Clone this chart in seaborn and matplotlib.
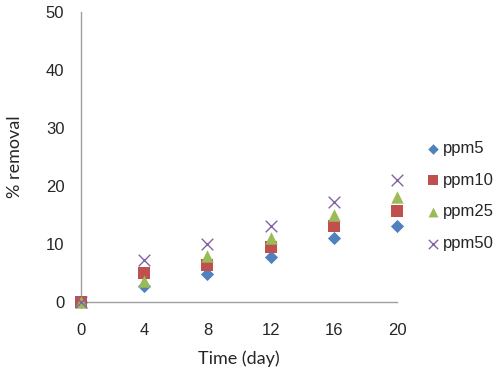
import matplotlib
matplotlib.use("Agg")
import matplotlib.pyplot as plt
import seaborn as sns
import pandas as pd

days = [0, 4, 8, 12, 16, 20]
ppm5 = [0, 2.8, 4.8, 7.8, 11.0, 13.1]
ppm10 = [0, 5.0, 6.4, 9.5, 13.1, 15.7]
ppm25 = [0, 3.6, 7.9, 11.0, 15.0, 18.1]
ppm50 = [0, 7.2, 10.0, 13.1, 17.2, 21.0]
series = ["ppm5", "ppm10", "ppm25", "ppm50"]

df = pd.DataFrame({
    "day": days * 4,
    "removal": ppm5 + ppm10 + ppm25 + ppm50,
    "conc": sum([[s] * len(days) for s in series], []),
})

sns.set_style("white")
plt.rcParams["font.family"] = ["Liberation Sans", "DejaVu Sans"]

fig = plt.figure(figsize=(5, 3.84), dpi=100)
ax = fig.add_axes([0.162, 0.214, 0.632, 0.755])

palette = {"ppm5": "#4F81BD", "ppm10": "#C0504D", "ppm25": "#9BBB59", "ppm50": "#8064A2"}
markers = {"ppm5": "D", "ppm10": "s", "ppm25": "^", "ppm50": "x"}
sizes = {"ppm5": 45, "ppm10": 85, "ppm25": 80, "ppm50": 70}

for s in series:
    sub = df[df.conc == s]
    kw = dict(linewidth=0) if markers[s] != "x" else dict(linewidth=1)
    sns.scatterplot(data=sub, x="day", y="removal", color=palette[s], marker=markers[s],
                    s=sizes[s], ax=ax, label=s, clip_on=False, zorder=3, **kw)

ax.set_xlim(0, 20)
ax.set_ylim(0, 50)
ax.set_xticks(days)
ax.set_yticks(range(0, 51, 10))
ax.tick_params(length=0, labelsize=12)
ax.tick_params(axis="y", pad=12)
ax.tick_params(axis="x", pad=15)
for side in ["top", "right"]:
    ax.spines[side].set_visible(False)
for side in ["left", "bottom"]:
    ax.spines[side].set_color("#A0A0A0")
    ax.spines[side].set_linewidth(1)
ax.set_xlabel("Time (day)", fontsize=13, labelpad=9, family="Lato")
ax.set_ylabel("% removal", fontsize=13, labelpad=16, family="Lato")

ax.legend(loc="center left", bbox_to_anchor=(1.04, 0.365), frameon=False, fontsize=12,
          handletextpad=0.1, labelspacing=1.0, handlelength=1.0, markerscale=0.8)

fig.savefig("out.png", dpi=100)
